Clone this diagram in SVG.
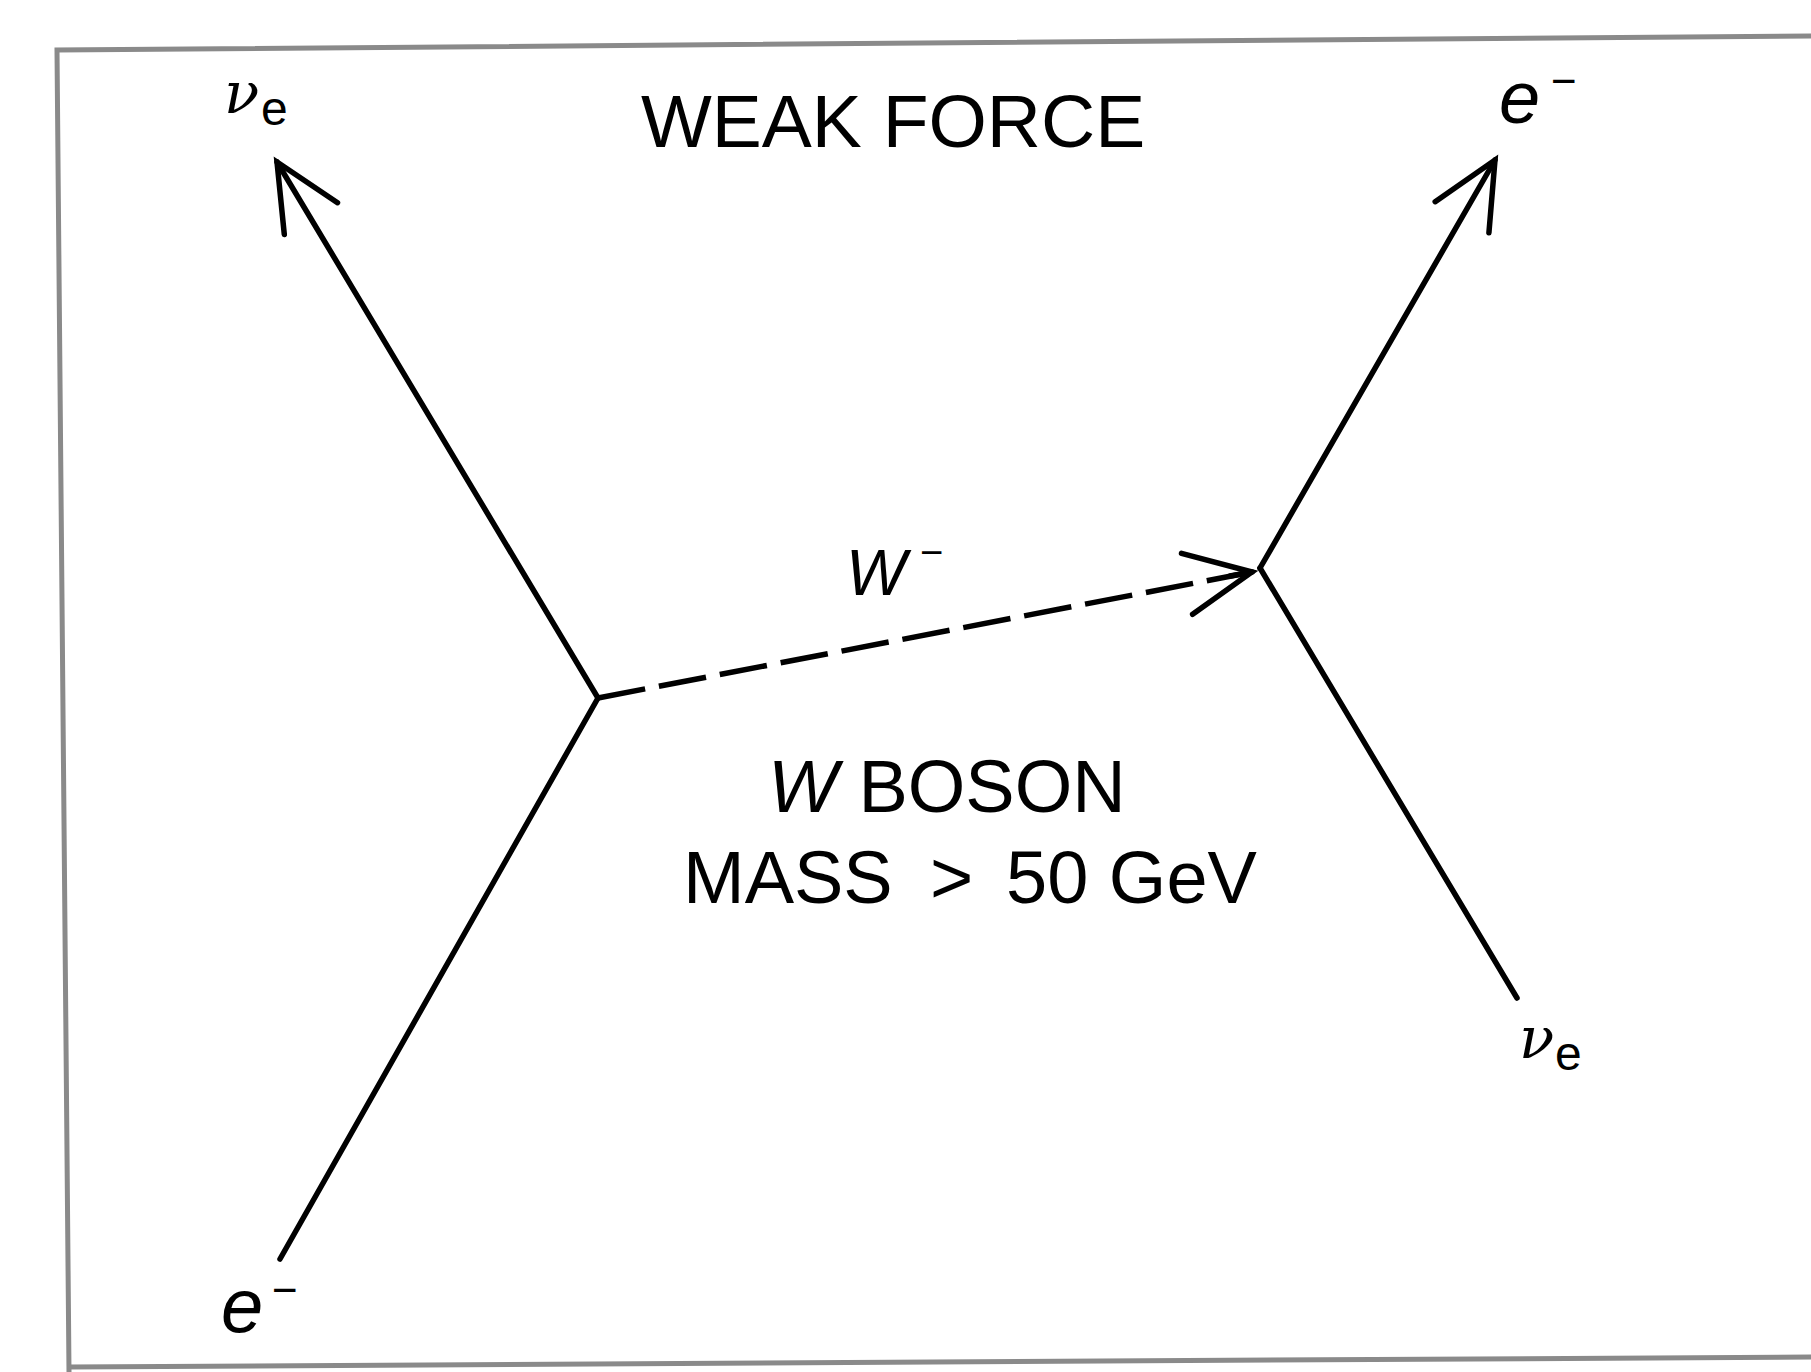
<svg xmlns="http://www.w3.org/2000/svg" width="1811" height="1372" viewBox="0 0 1811 1372">
<style>
.ln{stroke:#000;stroke-width:5.5;fill:none;stroke-linecap:round}
.dash{stroke-dasharray:48 14;stroke-linecap:butt}
.lbl{font-family:"Liberation Sans",Arial,sans-serif;fill:#000}
.nu{font-family:"DejaVu Serif","Liberation Serif",serif;font-style:italic;fill:#000}
.it{font-style:italic}
.frame{stroke:#8a8a8a;stroke-width:5;fill:none}
</style>
<defs>
<marker id="arr" markerUnits="userSpaceOnUse" markerWidth="160" markerHeight="160" viewBox="-80 -80 160 160" refX="0" refY="0" orient="auto" overflow="visible">
<path d="M-66,-31 L0,0 L-66,31" fill="none" stroke="#000" stroke-width="5.5" stroke-linecap="round" stroke-linejoin="miter"/>
</marker>
</defs>
<rect width="1811" height="1372" fill="#fff"/>
<g id="frame">
<path class="frame" d="M1811,36 L57,50 L69,1372"/>
<path class="frame" d="M69,1367 L1811,1357"/>
</g>
<g id="connectors">
<line class="ln" x1="598" y1="698" x2="277" y2="162" marker-end="url(#arr)"/>
<line class="ln" x1="598" y1="698" x2="280" y2="1259"/>
<line class="ln" x1="1260" y1="568" x2="1495" y2="160" marker-end="url(#arr)"/>
<line class="ln" x1="1260" y1="568" x2="1517" y2="998"/>
<line class="ln dash" x1="598" y1="698" x2="1252" y2="572"/>
<line class="ln" x1="1230" y1="576" x2="1252" y2="572" marker-end="url(#arr)"/>
</g>
<g id="title">
<text class="lbl" x="641" y="147" font-size="75">WEAK FORCE</text>
</g>
<g id="nu-e-top">
<text class="nu" x="224" y="113" font-size="58">ν</text>
<text class="lbl" x="261" y="125" font-size="48">e</text>
</g>
<g id="e-top">
<text class="lbl it" x="1499" y="123" font-size="74">e</text>
<text class="lbl" x="1551" y="96" font-size="44">−</text>
</g>
<g id="w-label">
<text class="lbl it" x="846" y="595" font-size="64">W</text>
<text class="lbl" x="920" y="566" font-size="40">−</text>
</g>
<g id="boson-label">
<text class="lbl" x="768" y="812" font-size="74"><tspan class="it">W</tspan> BOSON</text>
<text class="lbl" x="683" y="903" font-size="74">MASS</text>
<text class="lbl" x="930" y="903" font-size="74">&gt;</text>
<text class="lbl" x="1006" y="903" font-size="74">50 GeV</text>
</g>
<g id="nu-e-bottom">
<text class="nu" x="1519" y="1058" font-size="58">ν</text>
<text class="lbl" x="1555" y="1070" font-size="48">e</text>
</g>
<g id="e-bottom">
<text class="lbl it" x="221" y="1332" font-size="76">e</text>
<text class="lbl" x="272" y="1305" font-size="44">−</text>
</g>
</svg>
